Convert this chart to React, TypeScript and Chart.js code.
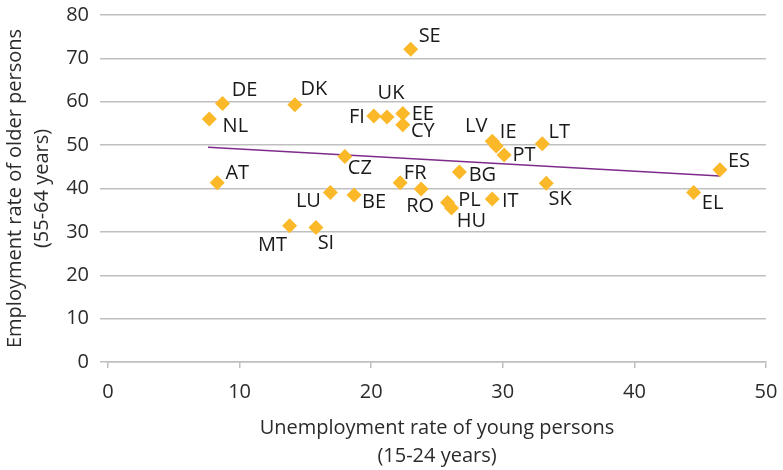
import React, { useEffect, useRef } from "react";
import { Chart, registerables } from "chart.js";

Chart.register(...registerables);

const countries = ["SE","DE","DK","NL","AT","CZ","FI","UK","EE","CY","LV","IE","PT","LT","BG","FR","RO","SK","ES","EL","LU","BE","MT","SI","PL","HU","IT"];
const youthUnemployment = [23.0, 8.7, 14.2, 7.7, 8.3, 18.0, 20.2, 21.2, 22.4, 22.4, 29.2, 29.5, 30.1, 33.0, 26.7, 22.2, 23.8, 33.3, 46.5, 44.5, 16.9, 18.7, 13.8, 15.8, 25.8, 26.1, 29.2];
const olderEmployment = [72.1, 59.6, 59.3, 56.0, 41.3, 47.4, 56.7, 56.5, 57.3, 54.7, 50.9, 49.8, 47.7, 50.3, 43.8, 41.3, 39.9, 41.2, 44.3, 39.1, 39.1, 38.5, 31.4, 31.0, 36.8, 35.5, 37.6];
const trendX = [7.6, 46.5];
const trendY = [49.5, 42.9];
const xTicks = [0, 10, 20, 30, 40, 50];
const yTicks = [0, 10, 20, 30, 40, 50, 60, 70, 80];

// label placement (dx, dy) in px relative to the point
const labelPlacement: Record<string, [number, number]> = {
  SE: [19, -13], DE: [22, -13], DK: [19, -15], NL: [26, 7], AT: [20, -10], CZ: [15, 12],
  FI: [-17, 1], UK: [4, -24], EE: [20, 1], CY: [20, 7], LV: [-16, -15], IE: [12, -14],
  PT: [20, 0], LT: [17, -12], BG: [23, 3], FR: [15, -10], RO: [-1, 17], SK: [14, 16],
  ES: [19, -9], EL: [19, 11], LU: [-22, 9], BE: [20, 7], MT: [-17, 19], SI: [10, 16],
  PL: [22, -2], HU: [20, 13], IT: [18, 2],
};

const FONT = "'Open Sans', 'DejaVu Sans', sans-serif";
const GRID = "#bfbfbf";
const TEXT = "#2b2b2b";

const labelPlugin = {
  id: "pointLabels",
  afterDatasetsDraw(chart: any) {
    const meta = chart.getDatasetMeta(0);
    const ctx = chart.ctx;
    ctx.save();
    ctx.font = `20px ${FONT}`;
    ctx.fillStyle = "#1a1a1a";
    ctx.textAlign = "center";
    ctx.textBaseline = "middle";
    meta.data.forEach((el: any, i: number) => {
      const name = countries[i];
      const [dx, dy] = labelPlacement[name] || [15, 0];
      ctx.fillText(name, el.x + dx, el.y + dy);
    });
    ctx.restore();
  },
};

export default function App() {
  const ref = useRef<HTMLCanvasElement>(null);
  useEffect(() => {
    if (!ref.current) return;
    const chart = new Chart(ref.current, {
      type: "scatter",
      data: {
        datasets: [
          {
            data: youthUnemployment.map((x, i) => ({ x, y: olderEmployment[i] })),
            pointStyle: "rectRot",
            pointRadius: 7.5,
            pointBackgroundColor: "#fbb829",
            pointBorderWidth: 0,
            borderWidth: 0,
            order: 1,
          },
          {
            data: trendX.map((x, i) => ({ x, y: trendY[i] })),
            showLine: true,
            pointRadius: 0,
            borderColor: "#7d2a8a",
            borderWidth: 1.5,
            order: 2,
          },
        ],
      },
      options: {
        responsive: false,
        animation: false,
        layout: { padding: { left: 0, top: 15, right: 17, bottom: 0 } },
        plugins: { legend: { display: false }, tooltip: { enabled: false } },
        scales: {
          x: {
            type: "linear",
            min: 0,
            max: 50,
            afterBuildTicks: (s: any) => { s.ticks = xTicks.map((v) => ({ value: v })); },
            afterFit: (s: any) => { s.height = 108; s.paddingLeft = 0; s.paddingRight = 0; },
            ticks: { font: { family: FONT, size: 20 }, color: TEXT, padding: 12, maxRotation: 0 },
            grid: { drawOnChartArea: false, drawTicks: true, tickLength: 6, color: GRID, lineWidth: 1.5 },
            border: { display: true, color: GRID, width: 1.5 },
            title: {
              display: true,
              text: ["Unemployment rate of young persons", "(15-24 years)"],
              font: { family: FONT, size: 20, lineHeight: 1.4 },
              color: TEXT,
              padding: { top: 0, bottom: 0 },
            },
          },
          y: {
            type: "linear",
            min: 0,
            max: 80,
            afterBuildTicks: (s: any) => { s.ticks = yTicks.map((v) => ({ value: v })); },
            afterFit: (s: any) => { s.width = 108; s.paddingTop = 0; s.paddingBottom = 0; },
            ticks: { font: { family: FONT, size: 20 }, color: TEXT, padding: 11 },
            grid: { color: GRID, lineWidth: 1.5, tickLength: 8 },
            border: { display: false },
            title: {
              display: true,
              text: ["Employment rate of older persons", "(55-64 years)"],
              font: { family: FONT, size: 20, lineHeight: 1.35 },
              color: TEXT,
              padding: { top: 2, bottom: 0 },
            },
          },
        },
      },
      plugins: [labelPlugin],
    });
    return () => chart.destroy();
  }, []);
  return (
    <canvas
      ref={ref}
      width={783}
      height={470}
      style={{ position: "absolute", left: 0, top: 0, width: 783, height: 470 }}
    />
  );
}
